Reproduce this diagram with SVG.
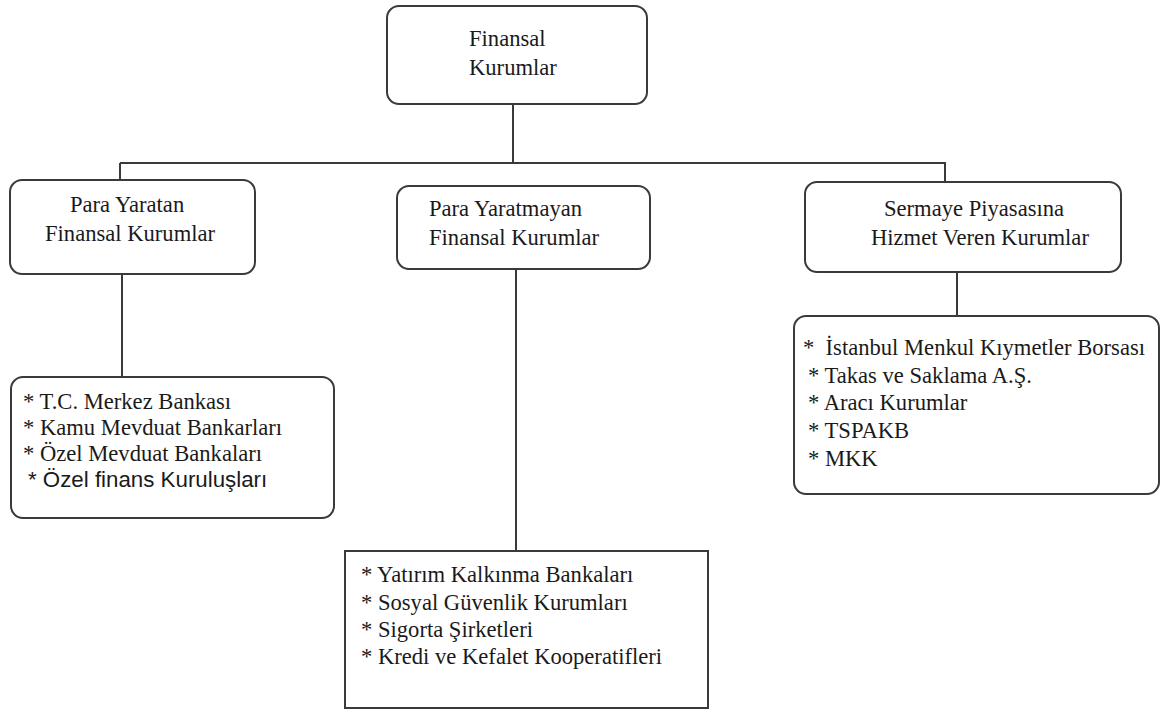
<svg xmlns="http://www.w3.org/2000/svg" width="1163" height="710" viewBox="0 0 1163 710">
<style>
.box{fill:#fff;stroke:#3a3a3a;stroke-width:2}
.t{font-size:22.6px;fill:#1a1a1a}
.s{font-size:22.3px;fill:#1a1a1a}
.c{fill:none;stroke:#3a3a3a;stroke-width:2}
</style>
<rect width="1163" height="710" fill="#fff"/>
<g id="connectors">
<path class="c" d="M513 104V163M120 163H945V182M120 163V180M122 274V377M516 269V551M957 272V316"/>
</g>
<g font-family="Liberation Serif, DejaVu Serif, serif">
<g id="root">
<rect class="box" x="387" y="6" width="260" height="98" rx="12"/>
<text class="t" x="469" y="46">Finansal</text>
<text class="t" x="469" y="75">Kurumlar</text>
</g>
<g id="para-yaratan">
<rect class="box" x="10" y="180" width="245" height="94" rx="12"/>
<text class="t" x="70" y="212">Para Yaratan</text>
<text class="t" x="45" y="241">Finansal Kurumlar</text>
</g>
<g id="para-yaratmayan">
<rect class="box" x="397" y="186" width="253" height="83" rx="12"/>
<text class="t" x="429" y="216">Para Yaratmayan</text>
<text class="t" x="429" y="245">Finansal Kurumlar</text>
</g>
<g id="sermaye">
<rect class="box" x="805" y="182" width="316" height="90" rx="12"/>
<text class="t" x="884" y="216">Sermaye Piyasasına</text>
<text class="t" x="871" y="245">Hizmet Veren Kurumlar</text>
</g>
<g id="list-para-yaratan">
<rect class="box" x="11" y="377" width="323" height="141" rx="12"/>
<text class="t" x="23" y="409">* T.C. Merkez Bankası</text>
<text class="t" x="23" y="435">* Kamu Mevduat Bankarları</text>
<text class="t" x="23" y="461">* Özel Mevduat Bankaları</text>
<text class="s" x="28" y="487" font-family="Liberation Sans, Arial, sans-serif">* Özel finans Kuruluşları</text>
</g>
<g id="list-para-yaratmayan">
<rect class="box" x="345" y="551" width="363" height="157"/>
<text class="t" x="361" y="582">* Yatırım Kalkınma Bankaları</text>
<text class="t" x="361" y="610">* Sosyal Güvenlik Kurumları</text>
<text class="t" x="361" y="637">* Sigorta Şirketleri</text>
<text class="t" x="361" y="664">* Kredi ve Kefalet Kooperatifleri</text>
</g>
<g id="list-sermaye">
<rect class="box" x="794" y="316" width="365" height="178" rx="12"/>
<text class="t" x="803" y="355" xml:space="preserve">*  İstanbul Menkul Kıymetler Borsası</text>
<text class="t" x="808" y="383">* Takas ve Saklama A.Ş.</text>
<text class="t" x="808" y="410">* Aracı Kurumlar</text>
<text class="t" x="808" y="438">* TSPAKB</text>
<text class="t" x="808" y="466">* MKK</text>
</g>
</g>
</svg>
